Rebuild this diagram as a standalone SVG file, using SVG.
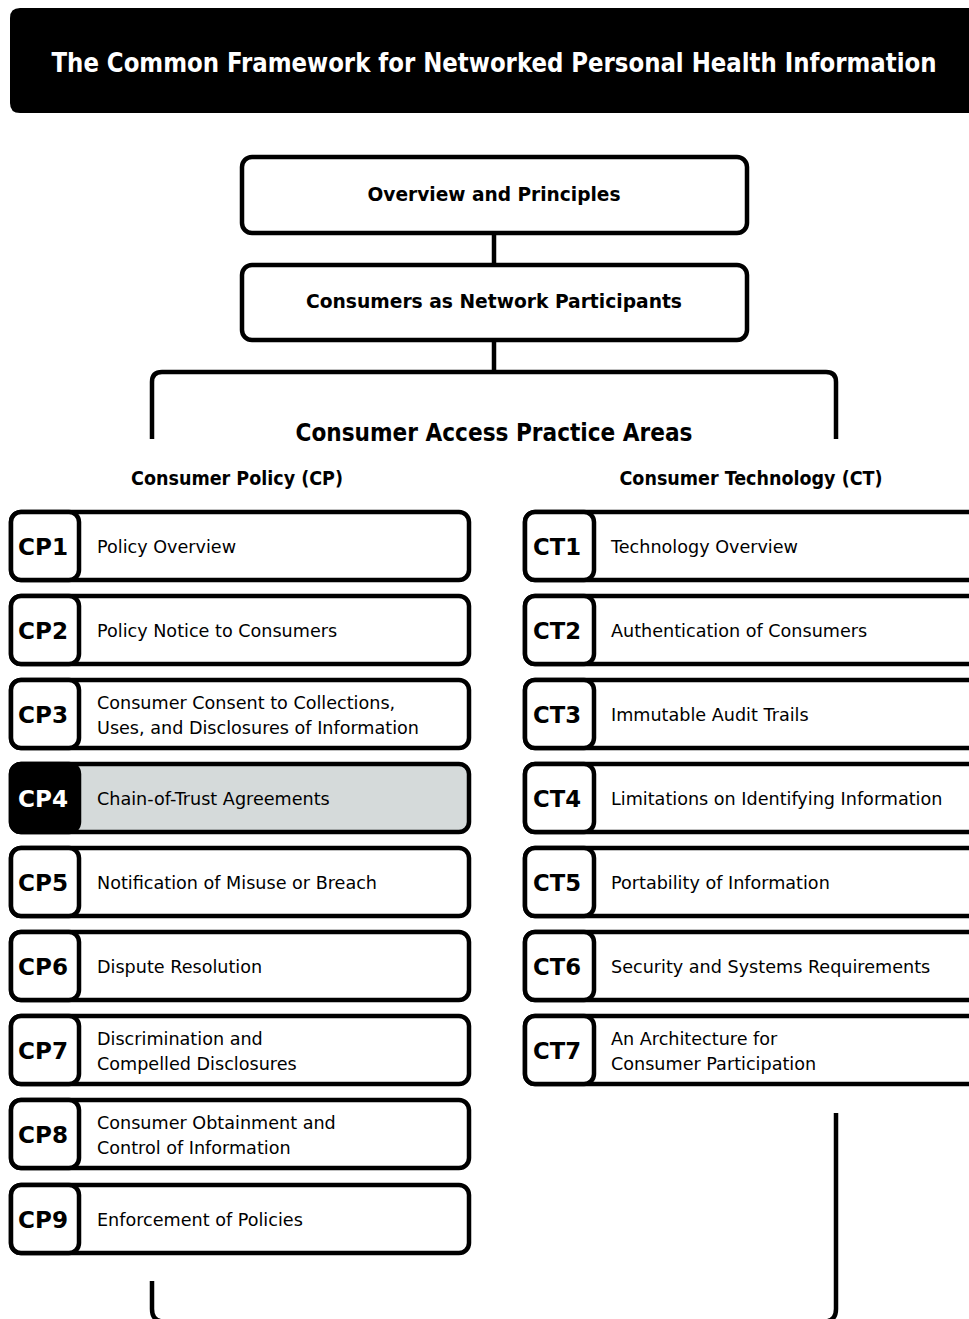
<svg xmlns="http://www.w3.org/2000/svg" width="969" height="1319" viewBox="0 0 969 1319">
<style>
.box{fill:#fff;stroke:#000;stroke-width:4.5}
.code{fill:#fff;stroke:#000;stroke-width:4.5}
.line{fill:none;stroke:#000;stroke-width:4.5;stroke-linecap:butt}
.title{font-family:"Liberation Sans Narrow","DejaVu Sans Condensed",sans-serif;font-weight:bold;font-size:27px;fill:#fff}
.head{font-family:"DejaVu Sans Condensed","DejaVu Sans",sans-serif;font-weight:bold;font-size:19px;fill:#000}
.sec{font-family:"Liberation Sans Narrow","DejaVu Sans Condensed",sans-serif;font-weight:bold;font-size:25px;fill:#000}
.sub{font-family:"Liberation Sans Narrow","DejaVu Sans Condensed",sans-serif;font-weight:bold;font-size:20px;fill:#000}
.cd{font-family:"DejaVu Sans","Liberation Sans",sans-serif;font-weight:bold;font-size:23px;fill:#000}
.ds{font-family:"DejaVu Sans","Verdana",sans-serif;font-size:17.6px;fill:#000}
</style>
<g id="title">
<path d="M20,8 H969 V113 H20 Q10,113 10,103 V18 Q10,8 20,8 Z" fill="#000"/>
<text class="title" x="494" y="72" text-anchor="middle" textLength="885" lengthAdjust="spacingAndGlyphs">The Common Framework for Networked Personal Health Information</text>
</g>
<g id="connectors">
<line class="line" x1="494" y1="234" x2="494" y2="264"/>
<line class="line" x1="494" y1="341" x2="494" y2="372"/>
<path class="line" d="M152,439 V382 Q152,372 162,372 H826 Q836,372 836,382 V439"/>
<path class="line" d="M152,1281 V1309 Q152,1319 160,1321"/>
<path class="line" d="M836,1113 V1309 Q836,1319 828,1321"/>
</g>
<g id="overview">
<rect class="box" x="242" y="157" width="505" height="76" rx="10"/>
<text class="head" x="494" y="201" text-anchor="middle" textLength="253" lengthAdjust="spacingAndGlyphs">Overview and Principles</text>
</g>
<g id="consumers">
<rect class="box" x="242" y="265" width="505" height="75" rx="10"/>
<text class="head" x="494" y="308" text-anchor="middle" textLength="376" lengthAdjust="spacingAndGlyphs">Consumers as Network Participants</text>
</g>
<g id="labels">
<text class="sec" x="494" y="441" text-anchor="middle" textLength="397" lengthAdjust="spacingAndGlyphs">Consumer Access Practice Areas</text>
<text class="sub" x="237" y="485" text-anchor="middle" textLength="212" lengthAdjust="spacingAndGlyphs">Consumer Policy (CP)</text>
<text class="sub" x="751" y="485" text-anchor="middle" textLength="263" lengthAdjust="spacingAndGlyphs">Consumer Technology (CT)</text>
</g>
<g id="CP1"><rect class="box" x="11" y="512" width="458" height="68" rx="10"/><rect class="code" x="11" y="512" width="68" height="68" rx="10"/><text class="cd" x="18" y="555" textLength="50" lengthAdjust="spacingAndGlyphs">CP1</text><text class="ds" x="97" y="553">Policy Overview</text></g>
<g id="CP2"><rect class="box" x="11" y="596" width="458" height="68" rx="10"/><rect class="code" x="11" y="596" width="68" height="68" rx="10"/><text class="cd" x="18" y="639" textLength="50" lengthAdjust="spacingAndGlyphs">CP2</text><text class="ds" x="97" y="637">Policy Notice to Consumers</text></g>
<g id="CP3"><rect class="box" x="11" y="680" width="458" height="68" rx="10"/><rect class="code" x="11" y="680" width="68" height="68" rx="10"/><text class="cd" x="18" y="723" textLength="50" lengthAdjust="spacingAndGlyphs">CP3</text><text class="ds" x="97" y="709">Consumer Consent to Collections,</text><text class="ds" x="97" y="734">Uses, and Disclosures of Information</text></g>
<g id="CP4"><rect class="box" x="11" y="764" width="458" height="68" rx="10" style="fill:#d5dada"/><rect class="code" x="11" y="764" width="68" height="68" rx="10" style="fill:#000"/><text class="cd" x="18" y="807" textLength="50" lengthAdjust="spacingAndGlyphs" style="fill:#fff">CP4</text><text class="ds" x="97" y="805">Chain-of-Trust Agreements</text></g>
<g id="CP5"><rect class="box" x="11" y="848" width="458" height="68" rx="10"/><rect class="code" x="11" y="848" width="68" height="68" rx="10"/><text class="cd" x="18" y="891" textLength="50" lengthAdjust="spacingAndGlyphs">CP5</text><text class="ds" x="97" y="889">Notification of Misuse or Breach</text></g>
<g id="CP6"><rect class="box" x="11" y="932" width="458" height="68" rx="10"/><rect class="code" x="11" y="932" width="68" height="68" rx="10"/><text class="cd" x="18" y="975" textLength="50" lengthAdjust="spacingAndGlyphs">CP6</text><text class="ds" x="97" y="973">Dispute Resolution</text></g>
<g id="CP7"><rect class="box" x="11" y="1016" width="458" height="68" rx="10"/><rect class="code" x="11" y="1016" width="68" height="68" rx="10"/><text class="cd" x="18" y="1059" textLength="50" lengthAdjust="spacingAndGlyphs">CP7</text><text class="ds" x="97" y="1045">Discrimination and</text><text class="ds" x="97" y="1070">Compelled Disclosures</text></g>
<g id="CP8"><rect class="box" x="11" y="1100" width="458" height="68" rx="10"/><rect class="code" x="11" y="1100" width="68" height="68" rx="10"/><text class="cd" x="18" y="1143" textLength="50" lengthAdjust="spacingAndGlyphs">CP8</text><text class="ds" x="97" y="1129">Consumer Obtainment and</text><text class="ds" x="97" y="1154">Control of Information</text></g>
<g id="CP9"><rect class="box" x="11" y="1185" width="458" height="68" rx="10"/><rect class="code" x="11" y="1185" width="68" height="68" rx="10"/><text class="cd" x="18" y="1228" textLength="50" lengthAdjust="spacingAndGlyphs">CP9</text><text class="ds" x="97" y="1226">Enforcement of Policies</text></g>
<g id="CT1"><rect class="box" x="525" y="512" width="480" height="68" rx="10"/><rect class="code" x="525" y="512" width="69" height="68" rx="10"/><text class="cd" x="533" y="555" textLength="48" lengthAdjust="spacingAndGlyphs">CT1</text><text class="ds" x="611" y="553">Technology Overview</text></g>
<g id="CT2"><rect class="box" x="525" y="596" width="480" height="68" rx="10"/><rect class="code" x="525" y="596" width="69" height="68" rx="10"/><text class="cd" x="533" y="639" textLength="48" lengthAdjust="spacingAndGlyphs">CT2</text><text class="ds" x="611" y="637">Authentication of Consumers</text></g>
<g id="CT3"><rect class="box" x="525" y="680" width="480" height="68" rx="10"/><rect class="code" x="525" y="680" width="69" height="68" rx="10"/><text class="cd" x="533" y="723" textLength="48" lengthAdjust="spacingAndGlyphs">CT3</text><text class="ds" x="611" y="721">Immutable Audit Trails</text></g>
<g id="CT4"><rect class="box" x="525" y="764" width="480" height="68" rx="10"/><rect class="code" x="525" y="764" width="69" height="68" rx="10"/><text class="cd" x="533" y="807" textLength="48" lengthAdjust="spacingAndGlyphs">CT4</text><text class="ds" x="611" y="805">Limitations on Identifying Information</text></g>
<g id="CT5"><rect class="box" x="525" y="848" width="480" height="68" rx="10"/><rect class="code" x="525" y="848" width="69" height="68" rx="10"/><text class="cd" x="533" y="891" textLength="48" lengthAdjust="spacingAndGlyphs">CT5</text><text class="ds" x="611" y="889">Portability of Information</text></g>
<g id="CT6"><rect class="box" x="525" y="932" width="480" height="68" rx="10"/><rect class="code" x="525" y="932" width="69" height="68" rx="10"/><text class="cd" x="533" y="975" textLength="48" lengthAdjust="spacingAndGlyphs">CT6</text><text class="ds" x="611" y="973">Security and Systems Requirements</text></g>
<g id="CT7"><rect class="box" x="525" y="1016" width="480" height="68" rx="10"/><rect class="code" x="525" y="1016" width="69" height="68" rx="10"/><text class="cd" x="533" y="1059" textLength="48" lengthAdjust="spacingAndGlyphs">CT7</text><text class="ds" x="611" y="1045">An Architecture for</text><text class="ds" x="611" y="1070">Consumer Participation</text></g>
</svg>
